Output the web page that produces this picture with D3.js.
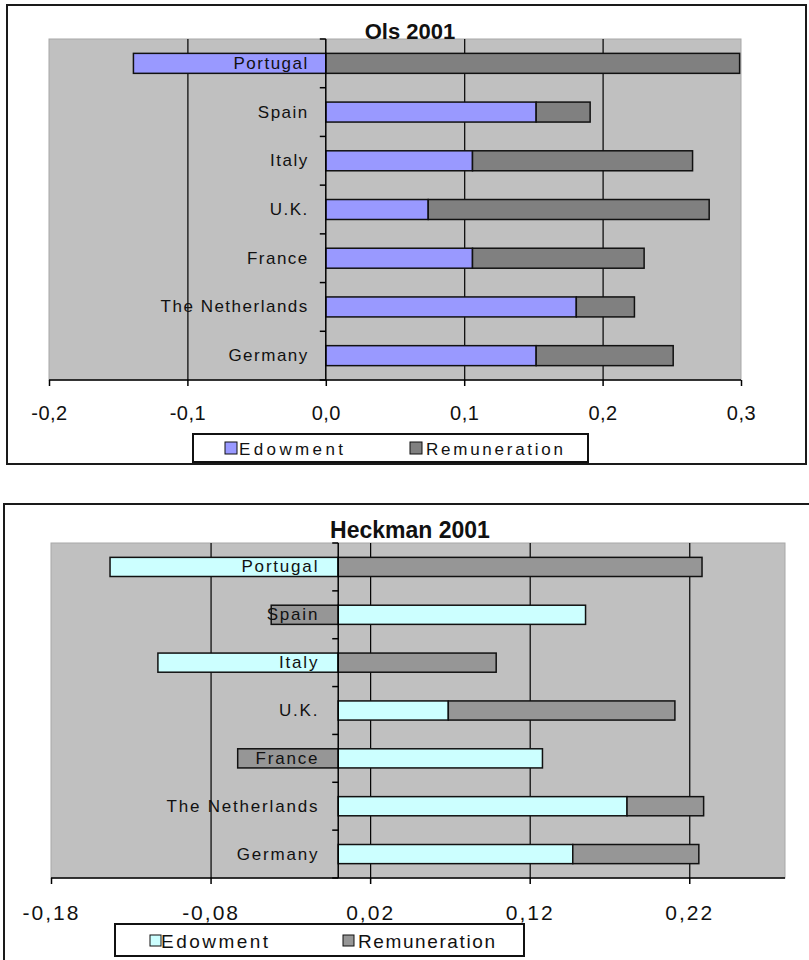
<!DOCTYPE html>
<html>
<head>
<meta charset="utf-8">
<script src="https://cdn.jsdelivr.net/npm/d3@7"></script>
<style>
  html, body { margin: 0; padding: 0; background: #fff; }
  svg { display: block; font-family: "Liberation Sans", Arial, sans-serif; }
</style>
</head>
<body>
<svg id="chart" width="809" height="960"></svg>
<script>
// Wage-gap decomposition by country (2001), two estimators
const categories = ["Portugal", "Spain", "Italy", "U.K.", "France", "The Netherlands", "Germany"];
const seriesNames = ["Edowment", "Remuneration"];

const olsEdowment     = [-0.139, 0.152, 0.106, 0.074, 0.106, 0.181, 0.152];
const olsRemuneration = [ 0.299, 0.039, 0.159, 0.203, 0.124, 0.042, 0.099];
const olsTicks = [-0.2, -0.1, 0.0, 0.1, 0.2, 0.3];

const heckEdowment     = [-0.143, 0.155, -0.113, 0.069, 0.128, 0.181, 0.147];
const heckRemuneration = [ 0.228, -0.042, 0.099, 0.142, -0.063, 0.048, 0.079];
const heckTicks = [-0.18, -0.08, 0.02, 0.12, 0.22];

const locale = d3.formatLocale({ decimal: ",", thousands: ".", grouping: [3], currency: ["", " €"], minus: "-" });

const svg = d3.select("#chart");

function drawChart(cfg) {
  const g = svg.append("g");

  // outer chart frame
  g.append("rect")
    .attr("x", cfg.frame[0]).attr("y", cfg.frame[1])
    .attr("width", cfg.frame[2]).attr("height", cfg.frame[3])
    .attr("fill", "#fff").attr("stroke", "#1a1a1a").attr("stroke-width", 2);

  const x = d3.scaleLinear().domain(cfg.domain).range([cfg.plot.x0, cfg.plot.x1]);
  const y = d3.scaleBand().domain(categories).range([cfg.plot.y0, cfg.plot.y1])
    .paddingInner(cfg.pad).paddingOuter(cfg.pad / 2);

  // plot area
  g.append("rect")
    .attr("x", cfg.plot.x0).attr("y", cfg.plot.y0)
    .attr("width", cfg.plot.x1 - cfg.plot.x0).attr("height", cfg.plot.y1 - cfg.plot.y0)
    .attr("fill", "#c0c0c0").attr("stroke", "#a8a8a8").attr("stroke-width", 1);

  // vertical gridlines
  g.append("g")
    .attr("transform", `translate(0,${cfg.plot.y1})`)
    .call(d3.axisBottom(x).tickValues(cfg.grid).tickSize(-(cfg.plot.y1 - cfg.plot.y0)).tickFormat(""))
    .call(a => a.select(".domain").remove())
    .call(a => a.selectAll("line").attr("stroke", "#000").attr("stroke-width", 1.2));

  // stacked bars (negatives stack to the left of zero)
  const rows = categories.map((c, i) => ({ category: c, Edowment: cfg.edowment[i], Remuneration: cfg.remuneration[i] }));
  const stacked = d3.stack().keys(seriesNames).offset(d3.stackOffsetDiverging)(rows);
  const color = d3.scaleOrdinal().domain(seriesNames).range(cfg.colors);

  g.append("g").selectAll("g")
    .data(stacked)
    .join("g")
    .attr("fill", d => color(d.key))
    .selectAll("rect")
    .data(d => d)
    .join("rect")
    .attr("x", d => x(Math.min(d[0], d[1])))
    .attr("y", d => y(d.data.category))
    .attr("width", d => Math.abs(x(d[1]) - x(d[0])))
    .attr("height", y.bandwidth())
    .attr("stroke", "#111")
    .attr("stroke-width", 1.5);

  // category axis at zero
  const zx = x(0);
  g.append("line")
    .attr("x1", zx).attr("x2", zx).attr("y1", cfg.plot.y0).attr("y2", cfg.plot.y1)
    .attr("stroke", "#000").attr("stroke-width", 1.5);
  const step = y.step();
  const bounds = d3.range(categories.length + 1).map(i => cfg.plot.y0 + i * step);
  g.append("g").selectAll("line")
    .data(bounds)
    .join("line")
    .attr("x1", zx - 6).attr("x2", zx)
    .attr("y1", d => d).attr("y2", d => d)
    .attr("stroke", "#000").attr("stroke-width", 1.5);

  g.append("g").selectAll("text")
    .data(categories)
    .join("text")
    .attr("x", zx - cfg.labelGap)
    .attr("y", d => y(d) + y.bandwidth() / 2)
    .attr("text-anchor", "end")
    .attr("dominant-baseline", "central")
    .attr("font-size", 17)
    .attr("letter-spacing", cfg.labelSpacing)
    .attr("fill", "#111")
    .text(d => d);

  // value axis
  g.append("g")
    .attr("transform", `translate(0,${cfg.plot.y1})`)
    .call(d3.axisBottom(x).tickValues(cfg.ticks).tickSize(6).tickPadding(0).tickFormat(locale.format(cfg.fmt)))
    .call(a => a.select(".domain").attr("d", `M${cfg.plot.x0},0H${cfg.plot.x1}`).attr("stroke", "#000").attr("stroke-width", 1.5))
    .call(a => a.selectAll(".tick line").attr("stroke", "#000").attr("stroke-width", 1.5))
    .call(a => a.selectAll(".tick text")
      .attr("y", cfg.tickLabelY - cfg.plot.y1)
      .attr("dy", "0.35em")
      .attr("font-size", cfg.tickFont)
      .attr("letter-spacing", cfg.tickSpacing)
      .attr("font-family", "Liberation Sans, Arial, sans-serif")
      .attr("fill", "#111"));

  // title
  g.append("text")
    .attr("x", cfg.titleX).attr("y", cfg.titleY)
    .attr("text-anchor", "middle")
    .attr("font-size", cfg.titleFont)
    .attr("font-weight", "bold")
    .attr("fill", "#111")
    .text(cfg.title);

  // legend
  const L = cfg.legend;
  g.append("rect")
    .attr("x", L.box[0]).attr("y", L.box[1]).attr("width", L.box[2]).attr("height", L.box[3])
    .attr("fill", "#fff").attr("stroke", "#111").attr("stroke-width", 2);
  const items = g.append("g").selectAll("g")
    .data(seriesNames)
    .join("g");
  items.append("rect")
    .attr("x", (d, i) => L.sq[i]).attr("y", L.sqY)
    .attr("width", L.sqSize).attr("height", L.sqSize)
    .attr("fill", d => color(d)).attr("stroke", "#111").attr("stroke-width", 1);
  items.append("text")
    .attr("x", (d, i) => L.tx[i]).attr("y", L.textY)
    .attr("dominant-baseline", "central")
    .attr("font-size", L.font)
    .attr("textLength", (d, i) => L.tw[i])
    .attr("lengthAdjust", "spacing")
    .attr("fill", "#111")
    .text(d => d);
}

drawChart({
  title: "Ols 2001", titleX: 410, titleY: 39, titleFont: 22,
  frame: [7, 5, 799, 459],
  plot: { x0: 49, x1: 741, y0: 39, y1: 380 },
  domain: [-0.2, 0.3], ticks: olsTicks, grid: [-0.1, 0.1, 0.2], fmt: ".1f",
  pad: 0.59, labelGap: 17, labelSpacing: 1.5,
  edowment: olsEdowment, remuneration: olsRemuneration,
  colors: ["#9999ff", "#808080"],
  tickLabelY: 413, tickFont: 20, tickSpacing: 0.5,
  legend: { box: [193, 434, 395, 28], sq: [225, 410], sqY: 442, sqSize: 12, tx: [239, 426], tw: [104, 137], textY: 449, font: 17 }
});

drawChart({
  title: "Heckman 2001", titleX: 410, titleY: 538, titleFont: 23,
  frame: [4, 504, 820, 470],
  plot: { x0: 51, x1: 785, y0: 543, y1: 878 },
  domain: [-0.18, 0.28], ticks: heckTicks, grid: [-0.08, 0.02, 0.12, 0.22], fmt: ".2f",
  pad: 0.6, labelGap: 19, labelSpacing: 1.8,
  edowment: heckEdowment, remuneration: heckRemuneration,
  colors: ["#ccffff", "#969696"],
  tickLabelY: 913, tickFont: 21, tickSpacing: 2,
  legend: { box: [115, 924, 409, 32], sq: [150, 343], sqY: 935, sqSize: 11, tx: [161, 358], tw: [107, 137], textY: 941, font: 19 }
});
</script>
</body>
</html>
